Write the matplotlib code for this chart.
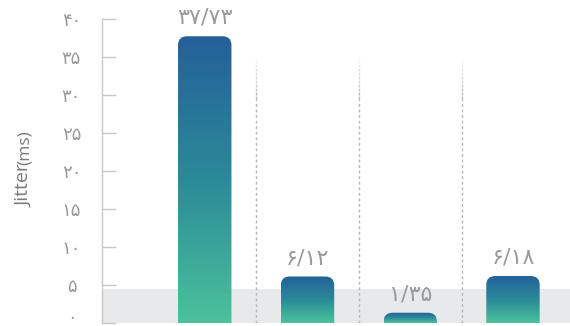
import matplotlib
matplotlib.use("Agg")
import matplotlib.pyplot as plt
import numpy as np
from matplotlib.path import Path
from matplotlib.patches import PathPatch
from matplotlib.colors import LinearSegmentedColormap
from matplotlib.collections import LineCollection

# ---- data ----
categories = ["A", "B", "C", "D"]
values = [37.73, 6.12, 1.35, 6.18]
value_labels = ["۳۷/۷۳", "۶/۱۲", "۱/۳۵", "۶/۱۸"]
yticks = [0, 5, 10, 15, 20, 25, 30, 35, 40]
ytick_labels = ["۰", "۵", "۱۰", "۱۵", "۲۰", "۲۵", "۳۰", "۳۵", "۴۰"]
band_top = 4.5

plt.rcParams['font.family'] = ['DejaVu Sans']

W, H = 570, 326
fig = plt.figure(figsize=(W / 100, H / 100), dpi=100)
ax = fig.add_axes([102 / W, 3 / H, 1 - 102 / W, (323 - 19) / H])

x = np.arange(len(categories))
ax.set_xlim(-1, 3.555)
ax.set_ylim(0, 40)

# gray band
ax.axhspan(0, band_top, color="#e8e9eb", zorder=0, lw=0)

# dashed separators with fade on top
for sx in [0.5, 1.5, 2.5]:
    ax.plot([sx, sx], [0, 29.5], ls=(0, (2, 2)), color="#b5b5b5", lw=1, zorder=1)
    n = 12
    ys = np.linspace(29.5, 35.8, n + 1)
    segs = [[(sx, ys[i]), (sx, ys[i + 1])] for i in range(n)]
    alphas = np.linspace(1, 0, n)
    cols = [(0.71, 0.71, 0.71, a) for a in alphas]
    lc = LineCollection(segs, colors=cols, linewidths=1, linestyles=(0, (2, 2)), zorder=1)
    ax.add_collection(lc)

# bars (geometry from library), filled with gradient
bars = ax.bar(x, values, width=0.52, color="none", edgecolor="none", zorder=2)
cmap = LinearSegmentedColormap.from_list("g", ["#4cc29b", "#2b8a98", "#24609a"])
grad = np.linspace(0, 1, 256).reshape(-1, 1)

fig.canvas.draw()
p0 = ax.transData.transform((0, 0))
p1 = ax.transData.transform((1, 1))
px_x = p1[0] - p0[0]
px_y = p1[1] - p0[1]
r_px = 9
rx = r_px / px_x
ry_full = r_px / px_y

for b in bars:
    x0 = b.get_x()
    w = b.get_width()
    h = b.get_height()
    x1 = x0 + w
    ry = min(ry_full, h)
    verts = [(x0, 0), (x0, h - ry), (x0, h), (x0 + rx, h), (x1 - rx, h),
             (x1, h), (x1, h - ry), (x1, 0), (x0, 0)]
    codes = [Path.MOVETO, Path.LINETO, Path.CURVE3, Path.CURVE3, Path.LINETO,
             Path.CURVE3, Path.CURVE3, Path.LINETO, Path.CLOSEPOLY]
    patch = PathPatch(Path(verts, codes), facecolor="none", edgecolor="none")
    ax.add_patch(patch)
    im = ax.imshow(grad, extent=(x0, x1, 0, h), origin="lower", cmap=cmap,
                   aspect="auto", zorder=2, interpolation="bilinear")
    im.set_clip_path(patch)

for xi, v, lab in zip(x, values, value_labels):
    ax.annotate(lab, (xi, v), xytext=(0, 6), textcoords="offset points",
                ha="center", va="bottom", fontsize=16, color="#9a9a9a")

ax.set_xlim(-1, 3.555)
ax.set_ylim(0, 40)

# axes styling
for s in ["top", "right", "bottom"]:
    ax.spines[s].set_visible(False)
ax.spines["left"].set_color("#c8c8c8")
ax.spines["left"].set_linewidth(1)
ax.set_xticks([])
ax.set_yticks(yticks)
ax.set_yticklabels(ytick_labels)
ax.tick_params(axis="y", direction="in", length=10, width=1, color="#c8c8c8",
               labelcolor="#9a9a9a", labelsize=13, pad=22)
for t in ax.get_yticklabels():
    t.set_ha("center")
ax.get_yticklabels()[0].set_va("baseline")

# y label: "Jitter" followed directly by a smaller "(ms)"
t1 = fig.text(24 / W, 1 - 207 / H, "Jitter", rotation=90, ha="center", va="bottom",
              fontsize=14, color="#7a7a7a", family="Open Sans")
fig.canvas.draw()
bb = t1.get_window_extent()
fig.text(25 / W, (bb.y1 - 1) / H, "(ms)", rotation=90, ha="center", va="bottom",
         fontsize=12.5, color="#7a7a7a", family="Open Sans")

fig.savefig("out.png", dpi=100)
